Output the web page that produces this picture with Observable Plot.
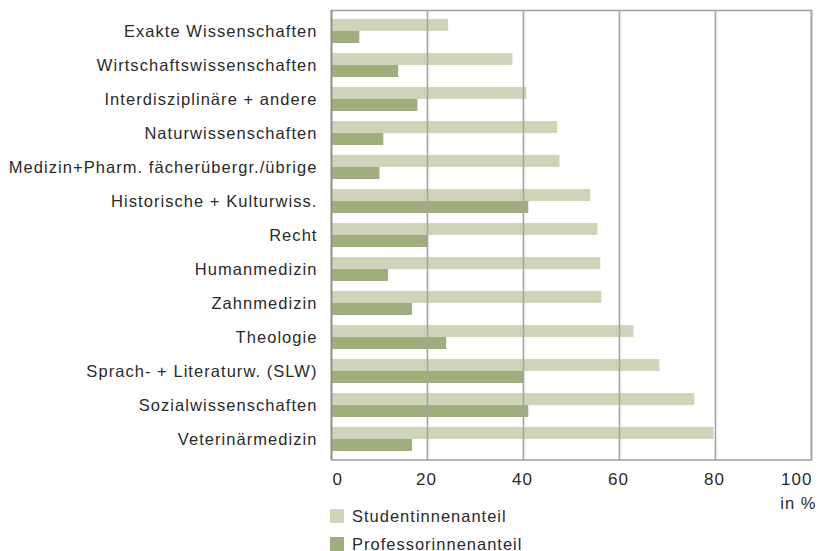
<!DOCTYPE html>
<html>
<head>
<meta charset="utf-8">
<script src="https://cdn.jsdelivr.net/npm/d3@7"></script>
<script src="https://cdn.jsdelivr.net/npm/@observablehq/plot@0.6"></script>
<style>
  body { margin: 0; background: #fff; font-family: "Liberation Sans", Arial, sans-serif; }
  #chart svg { display: block; overflow: visible; }
  .legend { margin-left: 330px; margin-top: -10px; font-size: 16.5px; letter-spacing: 1px; color: #2a2a2a; }
  .legend .item { display: flex; align-items: center; height: 28px; }
  .legend .sw { width: 13.5px; height: 13.5px; margin-right: 8.5px; }
</style>
</head>
<body>
<div id="chart"></div>
<script>
const categories = [
  "Exakte Wissenschaften",
  "Wirtschaftswissenschaften",
  "Interdisziplinäre + andere",
  "Naturwissenschaften",
  "Medizin+Pharm. fächerübergr./übrige",
  "Historische + Kulturwiss.",
  "Recht",
  "Humanmedizin",
  "Zahnmedizin",
  "Theologie",
  "Sprach- + Literaturw. (SLW)",
  "Sozialwissenschaften",
  "Veterinärmedizin"
];
const studentinnen = [24.4, 37.8, 40.7, 47.1, 47.6, 54.0, 55.5, 56.1, 56.3, 63.0, 68.4, 75.7, 79.7];
const professorinnen = [5.9, 14.0, 18.0, 10.9, 10.1, 41.1, 20.1, 11.9, 16.9, 24.0, 40.1, 41.1, 16.9];
const seriesNames = ["Studentinnenanteil", "Professorinnenanteil"];
const seriesColors = ["#cfd4b8", "#9fae7c"];
const xTicks = [0, 20, 40, 60, 80, 100];
const xLabel = "in %";

const stud = categories.map((c, i) => ({cat: c, value: studentinnen[i]}));
const prof = categories.map((c, i) => ({cat: c, value: professorinnen[i]}));

const tickStyle = {tickSize: 0, tickPadding: 13, fontSize: 17, label: null};

const plot = Plot.plot({
  width: 819,
  height: 512,
  marginLeft: 331,
  marginRight: 8,
  marginTop: 10,
  marginBottom: 52.5,
  style: {fontFamily: "'Liberation Sans', Arial, sans-serif", fontSize: "16.5px", color: "#2a2a2a", background: "#fff"},
  x: {domain: [0, 100]},
  y: {domain: categories, paddingInner: 0.296, paddingOuter: 0.243},
  marks: [
    Plot.barX(stud, {x: "value", y: "cat", fill: seriesColors[0], insetBottom: 12}),
    Plot.barX(prof, {x: "value", y: "cat", fill: seriesColors[1], insetTop: 12}),
    Plot.gridX(xTicks.slice(1), {stroke: "#a3a3a3", strokeOpacity: 1, strokeWidth: 1.6}),
    Plot.frame({stroke: "#a3a3a3", strokeWidth: 1.6}),
    Plot.ruleX([0], {stroke: "#8c8c8c", strokeWidth: 1.6}),
    Plot.axisX(xTicks.slice(0, 1), {...tickStyle, textAnchor: "start", dx: 1}),
    Plot.axisX(xTicks.slice(1, -1), {...tickStyle, dx: -1}),
    Plot.axisX(xTicks.slice(-1), {...tickStyle, textAnchor: "end", dx: 1}),
    Plot.axisX({ticks: [], tickSize: 0, label: xLabel, labelAnchor: "right", labelOffset: 49, labelArrow: "none", fontSize: 16.5}),
    Plot.axisY({tickSize: 0, tickPadding: 14, fontSize: 16.5, label: null})
  ]
});
plot.querySelectorAll("text").forEach(t => t.setAttribute("letter-spacing", "1.05"));
document.getElementById("chart").appendChild(plot);

const legend = document.createElement("div");
legend.className = "legend";
seriesNames.forEach((name, i) => {
  const item = document.createElement("div");
  item.className = "item";
  const sw = document.createElement("span");
  sw.className = "sw";
  sw.style.background = seriesColors[i];
  const lab = document.createElement("span");
  lab.textContent = name;
  item.appendChild(sw);
  item.appendChild(lab);
  legend.appendChild(item);
});
document.getElementById("chart").appendChild(legend);
</script>
</body>
</html>
